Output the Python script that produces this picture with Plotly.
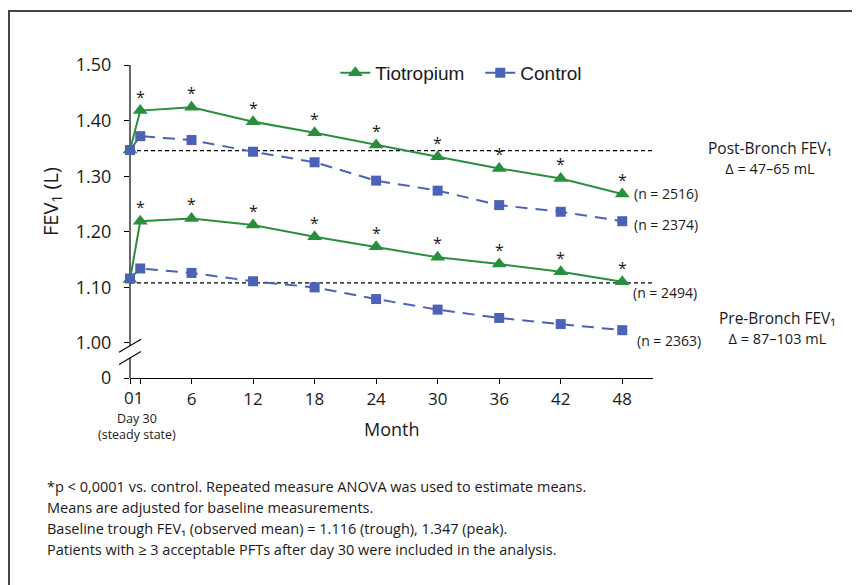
import plotly.graph_objects as go

# ---------------- data ----------------
months = [0, 1, 6, 12, 18, 24, 30, 36, 42, 48]
tio_post = [1.347, 1.418, 1.424, 1.398, 1.378, 1.356, 1.335, 1.314, 1.296, 1.268]
ctl_post = [1.347, 1.372, 1.365, 1.344, 1.325, 1.292, 1.274, 1.248, 1.236, 1.219]
tio_pre = [1.114, 1.219, 1.224, 1.212, 1.191, 1.173, 1.154, 1.142, 1.128, 1.110]
ctl_pre = [1.116, 1.134, 1.126, 1.111, 1.100, 1.079, 1.060, 1.045, 1.034, 1.023]
signif = [False, True, True, True, True, True, True, True, True, True]
baselines = [1.346, 1.108]
n_labels = ["(n = 2516)", "(n = 2374)", "(n = 2494)", "(n = 2363)"]
x_ticks = [6, 12, 18, 24, 30, 36, 42, 48]
x_ticktext = ["6", "12", "18", "24", "30", "36", "42", "48"]
x_early_ticks = [0, 1]
y_ticks_real = [1.0, 1.1, 1.2, 1.3, 1.4, 1.5]
y_ticktext_real = ["1.00", "1.10", "1.20", "1.30", "1.40", "1.50"]
post_label = ["Post-Bronch FEV\u2081", "\u0394 = 47\u201365 mL"]
pre_label = ["Pre-Bronch FEV\u2081", "\u0394 = 87\u2013103 mL"]
footnote = [
    "*p < 0,0001 vs. control. Repeated measure ANOVA was used to estimate means.",
    "Means are adjusted for baseline measurements.",
    "Baseline trough FEV\u2081 (observed mean) = 1.116 (trough), 1.347 (peak).",
    "Patients with \u2265 3 acceptable PFTs after day 30 were included in the analysis.",
]

# ---------------- style / layout constants ----------------
GREEN = "#2a8f3c"
BLUE = "#4b62b6"
FONT = "Open Sans"
TXT = "#1a1a1a"
ZERO_POS = 0.937      # where the broken axis shows "0"
Y_TOP = 1.5
X_MAX = 51
# plot area in page pixels (page body has an 8px margin)
PL, PT, PW, PH = 130, 65, 523, 313


def px_x(px):
    return (px - PL) / PW


def px_y(py):
    return (PT + PH - py) / PH


def val_y(v):
    return (v - ZERO_POS) / (Y_TOP - ZERO_POS)


fig = go.Figure()


def add_series(y, color, dash, symbol, size, name, show):
    fig.add_trace(go.Scatter(
        x=months, y=y, mode="lines+markers", name=name,
        line=dict(color=color, width=2, dash=dash),
        marker=dict(symbol=symbol, size=size, color=color),
        showlegend=show, legendgroup=name, cliponaxis=False,
    ))


add_series(tio_post, GREEN, "solid", "triangle-up", 13, "Tiotropium", True)
add_series(tio_pre, GREEN, "solid", "triangle-up", 13, "Tiotropium", False)
add_series(ctl_post, BLUE, "12px,8px", "square", 10, "Control", True)
add_series(ctl_pre, BLUE, "12px,8px", "square", 10, "Control", False)


def ann(x, y, text, size, xref="paper", yref="paper", xanchor="center", **kw):
    return dict(x=x, y=y, xref=xref, yref=yref, text=text, showarrow=False,
                xanchor=xanchor, yanchor="middle",
                font=dict(family=FONT, size=size, color=TXT), **kw)


annotations = []
# significance asterisks
for series in (tio_post, tio_pre):
    for m, v, s in zip(months, series, signif):
        if s:
            annotations.append(ann(m, v, "*", 16, xref="x", yref="y", yshift=14))

# baseline dashed lines
shapes = []
for b in baselines:
    shapes.append(dict(type="line", xref="x", yref="y", x0=0, x1=X_MAX, y0=b, y1=b,
                       line=dict(color="black", width=1.3, dash="4px,3px"), layer="below"))

# broken y axis
shapes.append(dict(type="line", xref="paper", yref="paper", x0=0, x1=0,
                   y0=val_y(0.995), y1=1.0, line=dict(color="black", width=1.2), layer="below"))
shapes.append(dict(type="line", xref="paper", yref="paper", x0=0, x1=0,
                   y0=0, y1=val_y(0.973), line=dict(color="black", width=1.2), layer="below"))
for yb in (0.995, 0.973):
    shapes.append(dict(type="line", xref="paper", yref="paper", xsizemode="pixel",
                       ysizemode="pixel", xanchor=0, yanchor=val_y(yb),
                       x0=-11, x1=11, y0=-6.5, y1=6.5, line=dict(color="black", width=1.1)))

# frame (top and left border)
shapes.append(dict(type="line", xref="paper", yref="paper", x0=px_x(8), x1=px_x(900),
                   y0=px_y(11), y1=px_y(11), line=dict(color="#444", width=2)))
shapes.append(dict(type="line", xref="paper", yref="paper", x0=px_x(9), x1=px_x(9),
                   y0=px_y(11), y1=px_y(600), line=dict(color="#444", width=2)))

# n labels
n_pos = [(tio_post[-1], 0), (ctl_post[-1], -3), (tio_pre[-1], -11), (ctl_pre[-1], -10)]
n_xshift = [10, 10, 9, 13]
for lab, (v, ys), xs in zip(n_labels, n_pos, n_xshift):
    annotations.append(ann(48, v, lab, 14, xref="x", yref="y", xanchor="left",
                           xshift=xs, yshift=ys))

# right-side block labels
annotations += [
    ann(px_x(770), px_y(157),
        post_label[0] + "<br><span style='font-size:14.5px'>" + post_label[1] + "</span>", 15.5),
    ann(px_x(777), px_y(327),
        pre_label[0] + "<br><span style='font-size:14.5px'>" + pre_label[1] + "</span>", 15.5),
    # axis titles
    ann(px_x(51), px_y(202), "FEV<sub>1</sub> (L)", 20, textangle=-90),
    ann(px_x(392), px_y(429), "Month", 18),
    ann(0.3, px_y(397), "01", 17, xref="x"),
    ann(0.7, px_y(426), "Day 30<br>(steady state)", 12.5, xref="x"),
]
# footnote
for i, line in enumerate(footnote):
    annotations.append(ann(px_x(45), px_y(486 + 21 * i), line, 14.5, xanchor="left"))

fig.update_layout(
    width=860 - 8, height=585 - 8,
    margin=dict(l=PL - 8, r=860 - PL - PW, t=PT - 8, b=585 - PT - PH),
    paper_bgcolor="white", plot_bgcolor="white",
    font=dict(family=FONT, color=TXT),
    showlegend=True,
    legend=dict(orientation="h", x=0.3925, xanchor="left", y=px_y(73), yanchor="middle",
                entrywidth=100, font=dict(family="Liberation Sans", size=19, color=TXT),
                bgcolor="rgba(0,0,0,0)"),
    xaxis=dict(range=[0, X_MAX], tickmode="array", tickvals=x_ticks, ticktext=x_ticktext,
               showline=True, linecolor="black", linewidth=1.2, ticks="outside", ticklen=5,
               tickcolor="black", showgrid=False, zeroline=False,
               minor=dict(tickmode="array", tickvals=x_early_ticks, ticks="outside",
                          ticklen=5, tickcolor="black", showgrid=False),
               tickfont=dict(family=FONT, size=17, color=TXT)),
    yaxis=dict(range=[ZERO_POS, Y_TOP], tickmode="array",
               tickvals=[ZERO_POS] + y_ticks_real, ticktext=["0"] + y_ticktext_real,
               showline=False, ticks="outside", ticklen=5, tickcolor="black",
               ticklabelstandoff=9, showgrid=False, zeroline=False,
               tickfont=dict(family=FONT, size=18, color=TXT)),
    shapes=shapes, annotations=annotations,
)

fig.write_html("out.html")
